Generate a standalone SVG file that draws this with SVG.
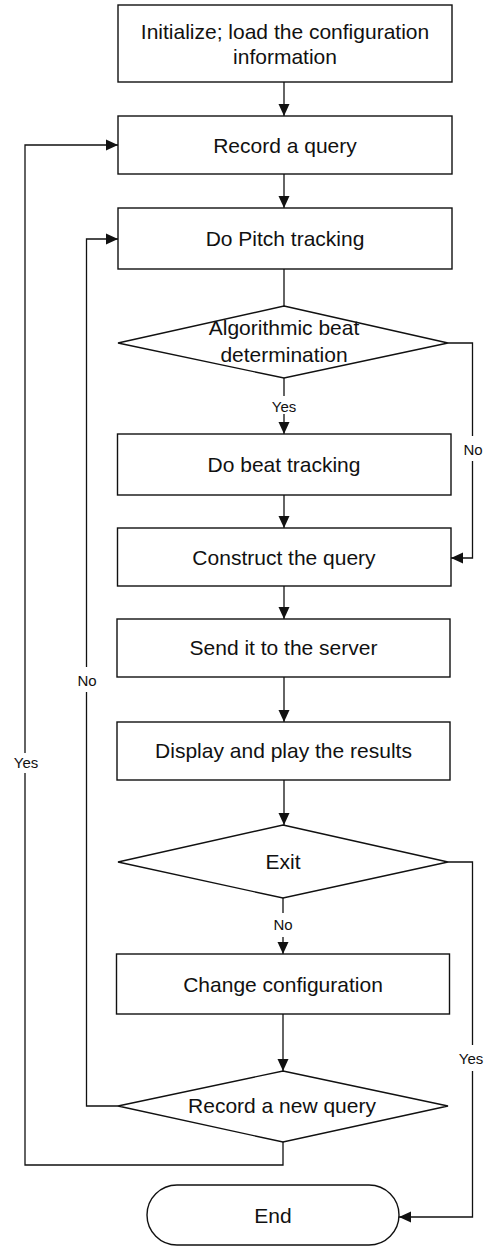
<svg xmlns="http://www.w3.org/2000/svg" width="485" height="1247" viewBox="0 0 485 1247">
<style>
.box{fill:#fff;stroke:#111;stroke-width:1.4}
.ln{fill:none;stroke:#111;stroke-width:1.3}
.t{font-family:"Liberation Sans",Arial,sans-serif;font-size:21px;fill:#111;text-anchor:middle}
.s{font-family:"Liberation Sans",Arial,sans-serif;font-size:15px;fill:#111;text-anchor:middle}
</style>
<defs>
<marker id="ah" markerUnits="userSpaceOnUse" markerWidth="12" markerHeight="12" refX="12" refY="6" orient="auto">
<path d="M0,0.5 L12,6 L0,11.5 z" fill="#111"/>
</marker>
</defs>
<rect width="485" height="1247" fill="#fff"/>
<g id="connectors">
<path class="ln" d="M284,82 V116" marker-end="url(#ah)"/>
<path class="ln" d="M284,174 V208" marker-end="url(#ah)"/>
<path class="ln" d="M284,269 V306"/>
<path class="ln" d="M284,378 V396"/>
<path class="ln" d="M284,414 V434" marker-end="url(#ah)"/>
<path class="ln" d="M448,343 H472.5 V436"/>
<path class="ln" d="M472.5,461 V558 H451" marker-end="url(#ah)"/>
<path class="ln" d="M284,495 V528" marker-end="url(#ah)"/>
<path class="ln" d="M284,586 V619" marker-end="url(#ah)"/>
<path class="ln" d="M284,677 V722" marker-end="url(#ah)"/>
<path class="ln" d="M284,780 V825" marker-end="url(#ah)"/>
<path class="ln" d="M283,898 V913"/>
<path class="ln" d="M283,937 V954" marker-end="url(#ah)"/>
<path class="ln" d="M448,862 H472.5 V1045"/>
<path class="ln" d="M472.5,1071 V1217 H399" marker-end="url(#ah)"/>
<path class="ln" d="M283,1014 V1071" marker-end="url(#ah)"/>
<path class="ln" d="M118,1106 H86.5 V692"/>
<path class="ln" d="M86.5,667 V239 H118" marker-end="url(#ah)"/>
<path class="ln" d="M283,1142 V1165 H25 V773"/>
<path class="ln" d="M25,753 V145 H118" marker-end="url(#ah)"/>
<text class="s" x="284" y="411.5">Yes</text>
<text class="s" x="473" y="455">No</text>
<text class="s" x="87" y="685.5">No</text>
<text class="s" x="26" y="768">Yes</text>
<text class="s" x="283" y="930">No</text>
<text class="s" x="471" y="1064">Yes</text>
</g>
<g id="n1"><rect class="box" x="118" y="5" width="334" height="77"/><text class="t" x="285" y="38.5">Initialize; load the configuration</text><text class="t" x="285" y="63.5">information</text></g>
<g id="n2"><rect class="box" x="118" y="116" width="334" height="58"/><text class="t" x="285" y="153">Record a query</text></g>
<g id="n3"><rect class="box" x="118" y="208" width="334" height="61"/><text class="t" x="285" y="245.5">Do Pitch tracking</text></g>
<g id="n4"><polygon class="box" points="284,306 448,343 284,378 118,343"/><text class="t" x="284" y="335">Algorithmic beat</text><text class="t" x="284" y="362">determination</text></g>
<g id="n5"><rect class="box" x="117.5" y="434" width="333.5" height="61"/><text class="t" x="284" y="472">Do beat tracking</text></g>
<g id="n6"><rect class="box" x="117.5" y="528" width="333.5" height="58"/><text class="t" x="284" y="564.5">Construct the query</text></g>
<g id="n7"><rect class="box" x="117" y="619" width="333" height="58"/><text class="t" x="283.5" y="655">Send it to the server</text></g>
<g id="n8"><rect class="box" x="117" y="722" width="333" height="58"/><text class="t" x="283.5" y="757.5">Display and play the results</text></g>
<g id="n9"><polygon class="box" points="283,825 448,862 283,898 118,862"/><text class="t" x="283" y="869">Exit</text></g>
<g id="n10"><rect class="box" x="116.5" y="954" width="333" height="60"/><text class="t" x="283" y="992">Change configuration</text></g>
<g id="n11"><polygon class="box" points="283,1071 448,1106 283,1142 118,1106"/><text class="t" x="282" y="1113">Record a new query</text></g>
<g id="n12"><rect class="box" x="147" y="1185" width="252" height="60" rx="30" ry="30"/><text class="t" x="273" y="1222.5">End</text></g>
</svg>
